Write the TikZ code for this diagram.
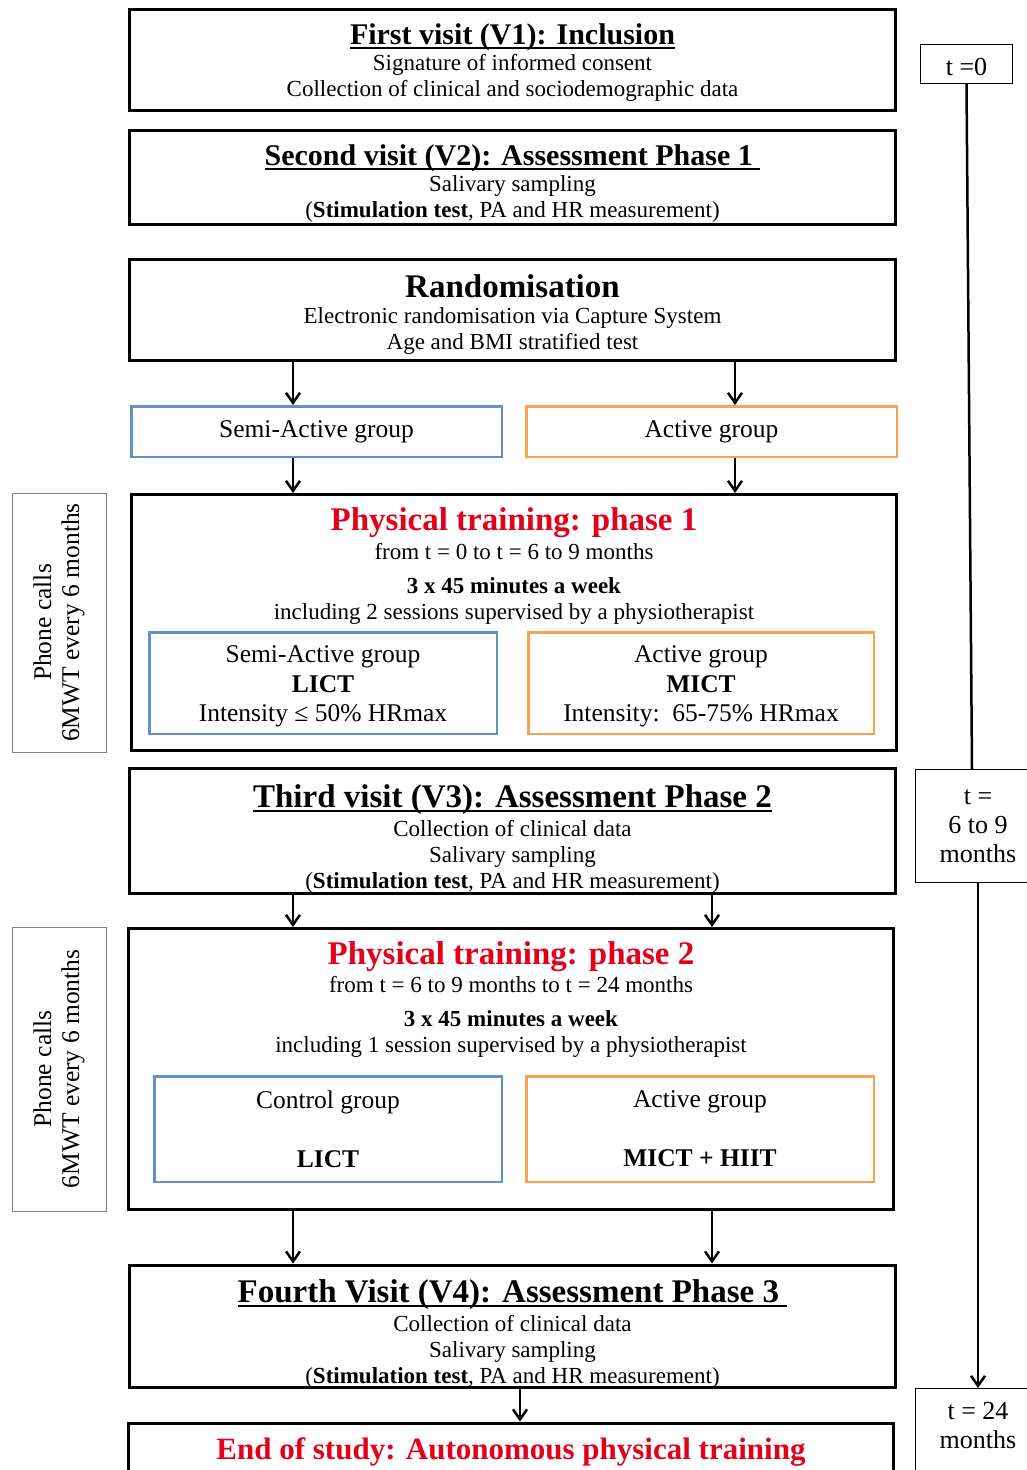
\documentclass[tikz,border=0pt]{standalone}
\usepackage{fontspec}
\setmainfont{Liberation Serif}
\usetikzlibrary{arrows.meta,calc,positioning}
\definecolor{studyred}{RGB}{226,0,26}
\definecolor{grpblue}{RGB}{96,146,204}
\definecolor{grporange}{RGB}{248,163,82}
\tikzset{semigrp/.style={draw=grpblue},activegrp/.style={draw=grporange}}
\newsavebox{\ulinebox}
\newcommand{\titleul}[1]{\sbox{\ulinebox}{#1}\rlap{\rule[-4.5pt]{\wd\ulinebox}{1.8pt}}\usebox{\ulinebox}}

\begin{document}
\begin{tikzpicture}[x=1pt, y=-1pt, >={Straight Barb[length=10pt,width=14pt]}]

\tikzset{visitbox/.style={draw,line width=3pt,minimum width=766pt,align=center,inner sep=0pt,font=\fontsize{23}{26}\selectfont},
grpbox/.style={line width=2.5pt,align=center,inner sep=0pt,font=\fontsize{25.5}{29.5}\selectfont},
sidebox/.style={draw=gray,line width=1pt,rotate=90,minimum height=94pt,align=center,font=\fontsize{25.5}{28}\selectfont},
timebox/.style={draw,line width=1.2pt,align=center,inner sep=0pt,font=\fontsize{26}{29}\selectfont},
phasetxt/.style={anchor=north,inner sep=0pt,align=center,font=\fontsize{23}{26}\selectfont},
flow/.style={->,line width=2.5pt}}

\useasboundingbox (0,0) rectangle (1027,1470);

% Visits
\node[visitbox,minimum height=101pt] (v1) at (512.5,60) {{\fontsize{30}{34}\selectfont\bfseries\rule{0pt}{25pt}\titleul{First visit (V1): Inclusion}}\\Signature of informed consent\\Collection of clinical and sociodemographic data};
\node[visitbox,minimum height=94pt] (v2) at (512.5,177.5) {{\fontsize{30}{34}\selectfont\bfseries\rule{0pt}{33pt}\titleul{Second visit (V2): Assessment Phase 1\ }}\\Salivary sampling\\(\textbf{Stimulation test}, PA and HR measurement)};
\node[visitbox,minimum height=101pt] (rand) at (512.5,310) {{\fontsize{33}{36}\selectfont\bfseries\rule{0pt}{32pt}Randomisation}\\Electronic randomisation via Capture System\\Age and BMI stratified test};
\node[visitbox,minimum height=121pt] (v3) at (512.5,831) {{\fontsize{33}{36}\selectfont\bfseries\rule{0pt}{39pt}\titleul{Third visit (V3): Assessment Phase 2}}\\[3pt]Collection of clinical data\\Salivary sampling\\(\textbf{Stimulation test}, PA and HR measurement)};
\node[visitbox,minimum height=120pt] (v4) at (512.5,1326.5) {{\fontsize{33}{36}\selectfont\bfseries\rule{0pt}{37pt}\titleul{Fourth Visit (V4): Assessment Phase 3\ }}\\[3pt]Collection of clinical data\\Salivary sampling\\(\textbf{Stimulation test}, PA and HR measurement)};
\node[visitbox,anchor=north,minimum width=765pt,inner ysep=15pt,text depth=80pt,font=\fontsize{31}{34}\selectfont\bfseries,text=studyred] (end) at (511,1421.5) {End of study: Autonomous physical training};

% Groups
\node[grpbox,semigrp,minimum width=370.5pt,minimum height=50.5pt] (semi) at (316.5,431.5) {Semi-Active group};
\node[grpbox,activegrp,minimum width=370.5pt,minimum height=50.5pt] (active) at (711.5,431.5) {Active group};

% Training phases
\node[visitbox,minimum width=765pt,minimum height=256pt] (phase1) at (514,622.5) {};
\node[phasetxt] (phase1txt) at ($(phase1.north)+(0,14)$) {{\fontsize{33}{36}\selectfont\bfseries\color{studyred}Physical training: phase 1}\\[3pt]from t = 0 to t = 6 to 9 months\\[8pt]\textbf{3 x 45 minutes a week}\\including 2 sessions supervised by a physiotherapist};
\node[grpbox,semigrp,minimum width=347.5pt,minimum height=101.5pt] (semi1) at (323,683) {\rule{0pt}{23.5pt}Semi-Active group\\\textbf{LICT}\\Intensity ≤ 50\% HRmax};
\node[grpbox,activegrp,minimum width=345.5pt,minimum height=101.5pt] (active1) at (701,683) {\rule{0pt}{23.5pt}Active group\\\textbf{MICT}\\Intensity:\ \ 65-75\% HRmax};

\node[visitbox,minimum width=765pt,minimum height=281pt] (phase2) at (511,1069) {};
\node[phasetxt] (phase2txt) at ($(phase2.north)+(0,14)$) {{\fontsize{33}{36}\selectfont\bfseries\color{studyred}Physical training: phase 2}\\[2pt]from t = 6 to 9 months to t = 24 months\\[8pt]\textbf{3 x 45 minutes a week}\\including 1 session supervised by a physiotherapist};
\node[grpbox,semigrp,minimum width=347.5pt,minimum height=105.5pt] (semi2) at (328,1129) {Control group\\[29.5pt]\textbf{LICT}};
\node[grpbox,activegrp,minimum width=347.5pt,minimum height=105.5pt] (active2) at (700,1129) {Active group\\[29.5pt]\textbf{MICT + HIIT}};

% Phone calls
\node[sidebox,minimum width=259pt] (calls1) at (59,622.5) {Phone calls\\6MWT every 6 months};
\node[sidebox,minimum width=284pt] (calls2) at (59,1069) {Phone calls\\6MWT every 6 months};

% Time line
\node[timebox,minimum width=92pt,minimum height=39pt] (t0) at (966.5,64) {\rule{0pt}{23.5pt}t =0};
\node[timebox,minimum width=125pt,minimum height=113pt] (t69) at (978,826) {t =\\6 to 9\\months};
\node[timebox,anchor=north,minimum width=125pt,inner ysep=14pt,text depth=70pt] (t24) at (978,1388) {t = 24\\months};
\draw[line width=2.5pt] (t0.south) -- ($(t69.north)+(-6,0)$);
\draw[flow] (t69.south) -- (t24.north);

% Arrows
\coordinate (colA) at (293,0);
\coordinate (colB) at (735,0);
\coordinate (colC) at (712,0);
\coordinate (colM) at (520,0);
\draw[flow] (rand.south -| colA) -- (semi.north -| colA);
\draw[flow] (rand.south -| colB) -- (active.north -| colB);
\draw[flow] (semi.south -| colA) -- (phase1.north -| colA);
\draw[flow] (active.south -| colB) -- (phase1.north -| colB);
\foreach \c in {colA,colC} \draw[flow] (v3.south -| \c) -- (phase2.north -| \c);
\foreach \c in {colA,colC} \draw[flow] (phase2.south -| \c) -- (v4.north -| \c);
\draw[flow] (v4.south -| colM) -- (end.north -| colM);

\end{tikzpicture}
\end{document}
